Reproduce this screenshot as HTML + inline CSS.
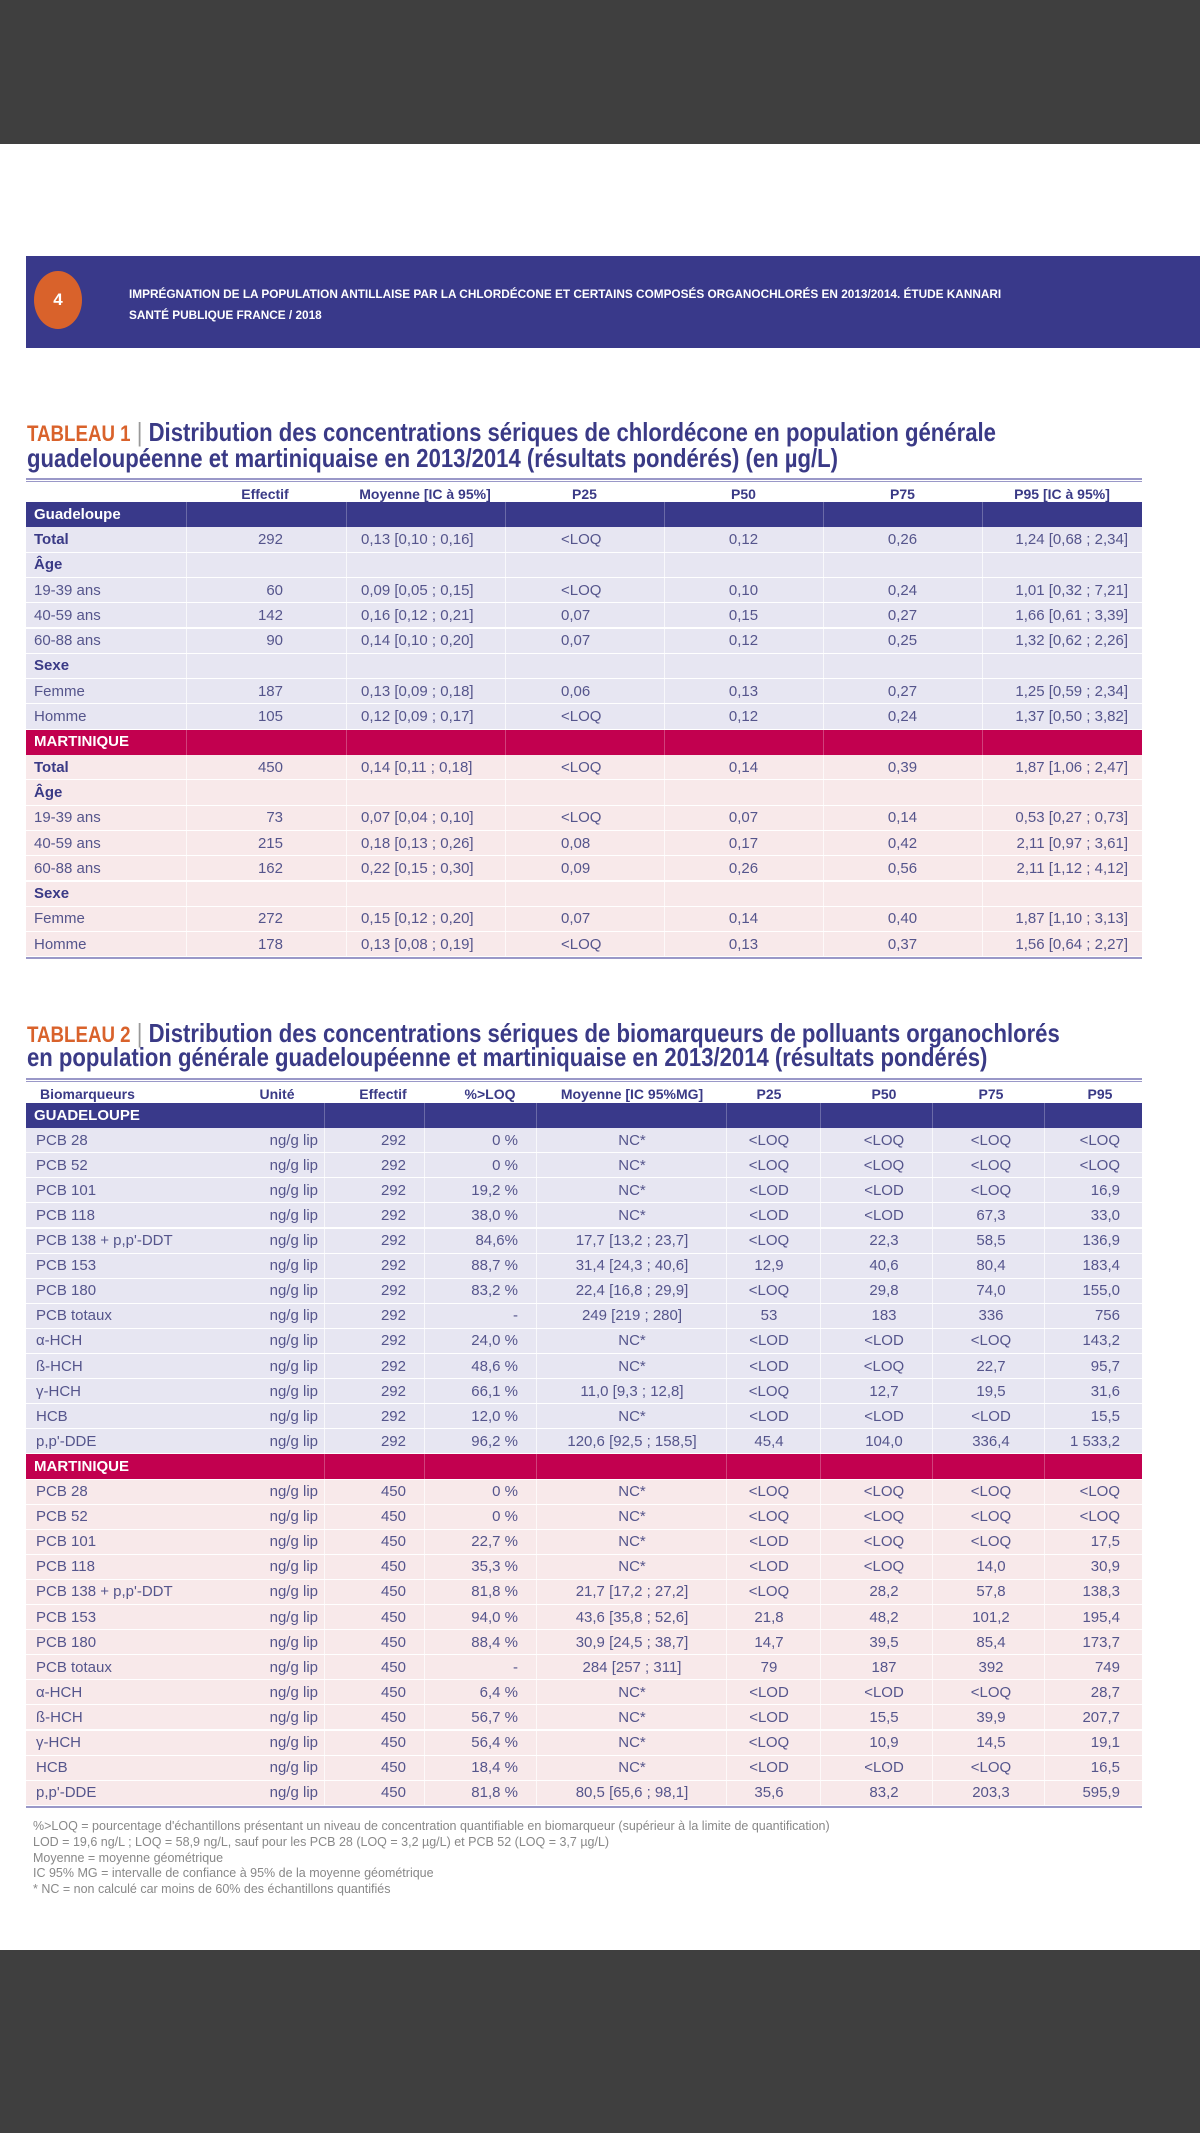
<!DOCTYPE html>
<html><head><meta charset="utf-8">
<style>
*{margin:0;padding:0;box-sizing:border-box}
body{width:1200px;height:2133px;position:relative;background:#fff;font-family:"Liberation Sans",sans-serif;overflow:hidden}
.abs{position:absolute}
.c{position:absolute;white-space:nowrap;font-size:15px;color:#55558c;line-height:20px}
.h{position:absolute;white-space:nowrap;font-family:"Liberation Sans",sans-serif;font-weight:bold;font-size:14px;color:#3a3a86;line-height:18px}
.title{position:absolute;left:27px;font-family:"Liberation Sans",sans-serif;font-weight:bold;font-size:26px;color:#3a3a86;white-space:nowrap;line-height:28px;transform:scaleX(0.85);transform-origin:0 0}
.tag{color:#d9622b;font-size:22px}
.foot{position:absolute;left:33px;font-family:"Liberation Sans",sans-serif;font-size:12.5px;color:#888;white-space:nowrap}
</style></head><body>
<div class="abs" style="left:0;top:0;width:1200px;height:144px;background:#3f3f3f"></div>
<div class="abs" style="left:0;top:1950px;width:1200px;height:183px;background:#3f3f3f"></div>
<div class="abs" style="left:26px;top:256px;width:1174px;height:92px;background:#39398a"></div>
<div class="abs" style="left:34px;top:271px;width:48px;height:58px;border-radius:50%;background:#d9622b;color:#fff;font-weight:bold;font-size:17px;text-align:center;line-height:58px">4</div>
<div class="abs" style="left:129px;top:284px;color:#fff;font-family:'Liberation Sans',sans-serif;font-weight:bold;font-size:11.8px;line-height:21px;white-space:nowrap">IMPRÉGNATION DE LA POPULATION ANTILLAISE PAR LA CHLORDÉCONE ET CERTAINS COMPOSÉS ORGANOCHLORÉS EN 2013/2014. ÉTUDE KANNARI<br>SANTÉ PUBLIQUE FRANCE / 2018</div>

<div class="title" style="top:418px"><span class="tag">TABLEAU 1</span> <span style="color:#999;font-weight:normal">|</span> Distribution des concentrations sériques de chlordécone en population générale</div>
<div class="title" style="top:444px">guadeloupéenne et martiniquaise en 2013/2014 (résultats pondérés) (en µg/L)</div>

<div class="title" style="top:1019px"><span class="tag">TABLEAU 2</span> <span style="color:#999;font-weight:normal">|</span> Distribution des concentrations sériques de biomarqueurs de polluants organochlorés</div>
<div class="title" style="top:1043px">en population générale guadeloupéenne et martiniquaise en 2013/2014 (résultats pondérés)</div>

<div id="t1"></div>
<div id="t2"></div>

<div class="foot" style="top:1819px">%&gt;LOQ = pourcentage d'échantillons présentant un niveau de concentration quantifiable en biomarqueur (supérieur à la limite de quantification)</div>
<div class="foot" style="top:1835px">LOD = 19,6 ng/L ; LOQ = 58,9 ng/L, sauf pour les PCB 28 (LOQ = 3,2 µg/L) et PCB 52 (LOQ = 3,7 µg/L)</div>
<div class="foot" style="top:1851px">Moyenne = moyenne géométrique</div>
<div class="foot" style="top:1866px">IC 95% MG = intervalle de confiance à 95% de la moyenne géométrique</div>
<div class="foot" style="top:1882px">* NC = non calculé car moins de 60% des échantillons quantifiés</div>

<script>
const t1Headers=["","Effectif","Moyenne [IC à 95%]","P25","P50","P75","P95 [IC à 95%]"];
const t1Rows=[
["B","Guadeloupe"],
["b","Total","292","0,13 [0,10 ; 0,16]","<LOQ","0,12","0,26","1,24 [0,68 ; 2,34]"],
["b","Âge"],
["r","19-39 ans","60","0,09 [0,05 ; 0,15]","<LOQ","0,10","0,24","1,01 [0,32 ; 7,21]"],
["r","40-59 ans","142","0,16 [0,12 ; 0,21]","0,07","0,15","0,27","1,66 [0,61 ; 3,39]"],
["r","60-88 ans","90","0,14 [0,10 ; 0,20]","0,07","0,12","0,25","1,32 [0,62 ; 2,26]"],
["b","Sexe"],
["r","Femme","187","0,13 [0,09 ; 0,18]","0,06","0,13","0,27","1,25 [0,59 ; 2,34]"],
["r","Homme","105","0,12 [0,09 ; 0,17]","<LOQ","0,12","0,24","1,37 [0,50 ; 3,82]"],
["M","MARTINIQUE"],
["b","Total","450","0,14 [0,11 ; 0,18]","<LOQ","0,14","0,39","1,87 [1,06 ; 2,47]"],
["b","Âge"],
["r","19-39 ans","73","0,07 [0,04 ; 0,10]","<LOQ","0,07","0,14","0,53 [0,27 ; 0,73]"],
["r","40-59 ans","215","0,18 [0,13 ; 0,26]","0,08","0,17","0,42","2,11 [0,97 ; 3,61]"],
["r","60-88 ans","162","0,22 [0,15 ; 0,30]","0,09","0,26","0,56","2,11 [1,12 ; 4,12]"],
["b","Sexe"],
["r","Femme","272","0,15 [0,12 ; 0,20]","0,07","0,14","0,40","1,87 [1,10 ; 3,13]"],
["r","Homme","178","0,13 [0,08 ; 0,19]","<LOQ","0,13","0,37","1,56 [0,64 ; 2,27]"]];
const t2Headers=["Biomarqueurs","Unité","Effectif","%>LOQ","Moyenne [IC 95%MG]","P25","P50","P75","P95"];
const t2Rows=[
["B","GUADELOUPE"],
["r","PCB 28","ng/g lip","292","0 %","NC*","<LOQ","<LOQ","<LOQ","<LOQ"],
["r","PCB 52","ng/g lip","292","0 %","NC*","<LOQ","<LOQ","<LOQ","<LOQ"],
["r","PCB 101","ng/g lip","292","19,2 %","NC*","<LOD","<LOD","<LOQ","16,9"],
["r","PCB 118","ng/g lip","292","38,0 %","NC*","<LOD","<LOD","67,3","33,0"],
["r","PCB 138 + p,p'-DDT","ng/g lip","292","84,6%","17,7 [13,2 ; 23,7]","<LOQ","22,3","58,5","136,9"],
["r","PCB 153","ng/g lip","292","88,7 %","31,4 [24,3 ; 40,6]","12,9","40,6","80,4","183,4"],
["r","PCB 180","ng/g lip","292","83,2 %","22,4 [16,8 ; 29,9]","<LOQ","29,8","74,0","155,0"],
["r","PCB totaux","ng/g lip","292","-","249 [219 ; 280]","53","183","336","756"],
["r","α-HCH","ng/g lip","292","24,0 %","NC*","<LOD","<LOD","<LOQ","143,2"],
["r","ß-HCH","ng/g lip","292","48,6 %","NC*","<LOD","<LOQ","22,7","95,7"],
["r","γ-HCH","ng/g lip","292","66,1 %","11,0 [9,3 ; 12,8]","<LOQ","12,7","19,5","31,6"],
["r","HCB","ng/g lip","292","12,0 %","NC*","<LOD","<LOD","<LOD","15,5"],
["r","p,p'-DDE","ng/g lip","292","96,2 %","120,6 [92,5 ; 158,5]","45,4","104,0","336,4","1 533,2"],
["M","MARTINIQUE"],
["r","PCB 28","ng/g lip","450","0 %","NC*","<LOQ","<LOQ","<LOQ","<LOQ"],
["r","PCB 52","ng/g lip","450","0 %","NC*","<LOQ","<LOQ","<LOQ","<LOQ"],
["r","PCB 101","ng/g lip","450","22,7 %","NC*","<LOD","<LOQ","<LOQ","17,5"],
["r","PCB 118","ng/g lip","450","35,3 %","NC*","<LOD","<LOQ","14,0","30,9"],
["r","PCB 138 + p,p'-DDT","ng/g lip","450","81,8 %","21,7 [17,2 ; 27,2]","<LOQ","28,2","57,8","138,3"],
["r","PCB 153","ng/g lip","450","94,0 %","43,6 [35,8 ; 52,6]","21,8","48,2","101,2","195,4"],
["r","PCB 180","ng/g lip","450","88,4 %","30,9 [24,5 ; 38,7]","14,7","39,5","85,4","173,7"],
["r","PCB totaux","ng/g lip","450","-","284 [257 ; 311]","79","187","392","749"],
["r","α-HCH","ng/g lip","450","6,4 %","NC*","<LOD","<LOD","<LOQ","28,7"],
["r","ß-HCH","ng/g lip","450","56,7 %","NC*","<LOD","15,5","39,9","207,7"],
["r","γ-HCH","ng/g lip","450","56,4 %","NC*","<LOQ","10,9","14,5","19,1"],
["r","HCB","ng/g lip","450","18,4 %","NC*","<LOD","<LOD","<LOQ","16,5"],
["r","p,p'-DDE","ng/g lip","450","81,8 %","80,5 [65,6 ; 98,1]","35,6","83,2","203,3","595,9"]];

function mk(parent,cls,txt,l,t,w,h,align,style){
  const d=document.createElement('div');d.className=cls;d.textContent=txt;
  d.style.left=l+'px';d.style.top=t+'px';if(w)d.style.width=w+'px';if(h)d.style.height=h+'px';
  if(align)d.style.textAlign=align;if(style)d.style.cssText+=style;parent.appendChild(d);return d;
}
function build(id,L,R,headTop,bodyTop,pitch,headers,hdrCols,rows,cols,bounds,prefix){
  const root=document.getElementById(id);
  let e=mk(root,'abs','',L,headTop-4,R-L,4,null,'border-top:2px solid #9a98c8;border-bottom:1px solid #9a98c8');
  
  
  headers.forEach((h,i)=>{if(!h)return;const c=hdrCols[i];
    const d=mk(root,'h',h,c[0],headTop+3,c[1]-c[0],18,c[2]);
    
    });
  let gp=false;
  rows.forEach((r,ri)=>{
    const top=bodyTop+ri*pitch;
    if(r[0]==='B'||r[0]==='M'){
      gp=r[0]==='M';
      const bg=gp?'#c2004f':'#39398a';
      const band=mk(root,'abs','',L,top,R-L,pitch,null,'background:'+bg);
      
      
      bounds.forEach(x=>{const v=mk(root,'abs','',x,top,1,pitch,null,'background:rgba(255,255,255,0.25)');
        
        });
      const t=mk(root,'h',r[1],L+8,top+(pitch-18)/2,200,18,'left','color:#fff;font-size:15px');
      
      
      return;
    }
    const bg=gp?'#f8e9ea':'#e7e6f2';
    const row=mk(root,'abs','',L,top,R-L,pitch,null,'background:'+bg+';border-bottom:1px solid #fff');
    
    
    bounds.forEach(x=>{const v=mk(root,'abs','',x,top,1,pitch,null,'background:rgba(255,255,255,0.7)');
      
      });
    for(let k=1;k<r.length;k++){const c=cols[k-1];
      const st=(r[0]==='b'&&k===1)?'font-weight:bold;color:#3a3a86;font-size:15px':'';
      const d=mk(root,'c',r[k],c[0],top+(pitch-20)/2,c[1]-c[0],20,c[2],st);
      
      }
  });
  const end=bodyTop+rows.length*pitch;
  e=mk(root,'abs','',L,end,R-L,2,null,'background:#9a98c8');
  
  
}
build('t1',26,1142,482,502,25.3,t1Headers,
 [[0,0],[200,330,'center'],[345,505,'center'],[505,664,'center'],[664,823,'center'],[823,982,'center'],[982,1142,'center']],
 t1Rows,
 [[34,186,'left'],[186,283,'right'],[361,505,'left'],[561,664,'left'],[664,823,'center'],[823,982,'center'],[982,1128,'right']],
 [186,346,505,664,823,982],'t1');
build('t2',26,1142,1082,1103,25.1,t2Headers,
 [[40,200,'left'],[237,317,'center'],[343,423,'center'],[450,530,'center'],[532,732,'center'],[729,809,'center'],[844,924,'center'],[951,1031,'center'],[1060,1140,'center']],
 t2Rows,
 [[36,250,'left'],[220,318,'right'],[330,406,'right'],[420,518,'right'],[532,732,'center'],[720,818,'center'],[834,934,'center'],[941,1041,'center'],[1000,1120,'right']],
 [324,424,536,726,820,932,1044],'t2');
</script>
</body></html>
